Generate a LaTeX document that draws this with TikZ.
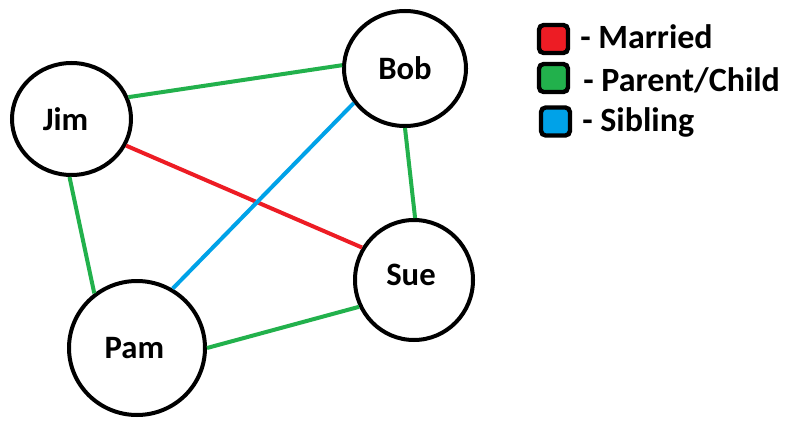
\documentclass[tikz,border=0pt]{standalone}
\usepackage{fontspec}
\setmainfont{Carlito}
\usetikzlibrary{shapes.geometric}
\definecolor{mred}{HTML}{ED1C24}
\definecolor{mgreen}{HTML}{22B14C}
\definecolor{mblue}{HTML}{00A2E8}
\begin{document}
\begin{tikzpicture}[x=0.75pt,y=-0.75pt,
  person/.style={ellipse, draw, line width=3pt, inner sep=0pt},
  pname/.style={font=\fontsize{24.5}{28}\selectfont\bfseries},
  link/.style={line width=3pt},
  keybox/.style={draw, line width=3.3pt, rounded corners=3.5pt, minimum width=21.75pt, minimum height=21pt, inner sep=0pt},
  keytext/.style={anchor=base west, inner sep=0pt, font=\fontsize{25.5}{30}\selectfont\bfseries}]
\useasboundingbox (0,0) rectangle (810,428);
\fill[white] (0,0) rectangle (810,428);
% people
\node[person, minimum width=89.25pt, minimum height=84pt,
  label={[pname, xshift=-4.5pt]center:Jim}] (jim) at (71.5,119) {};
\node[person, minimum width=91.5pt, minimum height=86.25pt,
  label={[pname]center:Bob}] (bob) at (405,68.5) {};
\node[person, minimum width=88.5pt, minimum height=90pt,
  label={[pname, xshift=-2.25pt, yshift=3.75pt]center:Sue}] (sue) at (414,280) {};
\node[person, minimum width=102pt, minimum height=100.5pt,
  label={[pname, xshift=-2pt]center:Pam}] (pam) at (137,348) {};
% relations
\draw[link, mgreen] (jim.21) -- (bob.177);
\draw[link, mred] (jim.-26) -- (sue.148);
\draw[link, mgreen] (jim.-92) -- (pam.128);
\draw[link, mblue] (bob.214.7) -- (pam.59);
\draw[link, mgreen] (bob.-90) -- (sue.89);
\draw[link, mgreen] (pam.0) -- (sue.206.6);
% legend
\node[keybox, fill=mred] (k1) at (553.5,39) {};
\node[keybox, fill=mgreen] (k2) at (553.5,78) {};
\node[keybox, fill=mblue] (k3) at (555.5,121.5) {};
\node[keytext] (t1) at (580,49) {- Married};
\node[keytext] (t2) at (583,92) {- Parent/Child};
\node[keytext] (t3) at (582,131) {- Sibling};
\end{tikzpicture}
\end{document}
